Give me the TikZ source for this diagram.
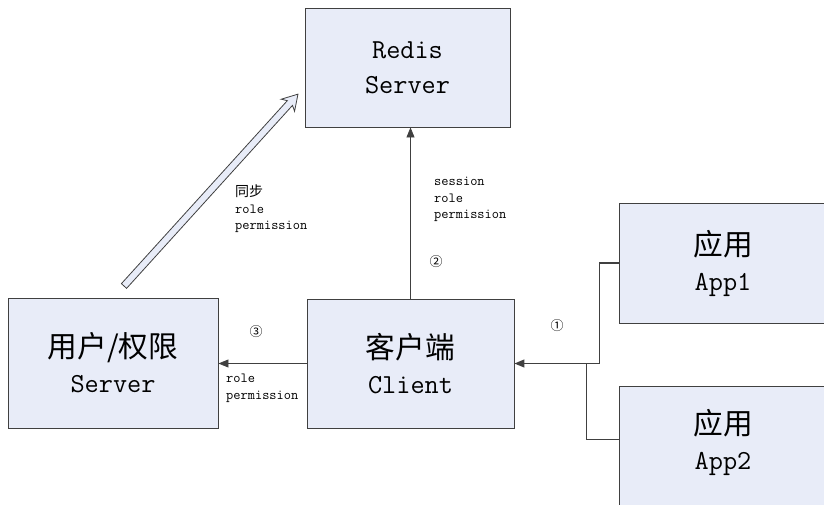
\documentclass[tikz,border=0pt]{standalone}
\usepackage{fontspec}
\newfontfamily\cjk[Scale=1.08]{Noto Sans CJK SC}
\newfontfamily\cjksmall{Noto Sans CJK SC}
\usetikzlibrary{arrows.meta,calc}
\definecolor{boxfill}{HTML}{E8ECF8}
\definecolor{linegray}{HTML}{404040}
\tikzset{
  box/.style={draw=linegray, line width=0.9pt, fill=boxfill, minimum width=#1, align=center,
     font=\fontsize{27.5}{35}\selectfont\ttfamily, inner sep=0pt},
  conn/.style={draw=linegray, line width=0.8pt},
  tip/.style={-{Triangle[length=10pt,width=8pt]}},
  lbl/.style={font=\fontsize{14}{16.5}\selectfont\ttfamily, align=left, inner sep=0pt},
  num/.style={font=\fontsize{13}{15}\selectfont\cjksmall, inner sep=0pt}
}
\begin{document}
\begin{tikzpicture}[x=1pt,y=1pt]
\useasboundingbox (0,0) rectangle (824,504);
\clip (0,0) rectangle (824,504);
% boxes
\node[box=205pt, minimum height=119pt] (redis) at (407.5,436.5) {Redis\\Server};
\node[box=210pt, minimum height=130pt] (user) at (113,141) {{\cjk 用户/权限}\\Server};
\node[box=207pt, minimum height=129pt] (client) at (410.5,140.5) {{\cjk 客户端}\\Client};
\node[box=208pt, minimum height=120pt] (app1) at (723,241) {{\cjk 应用}\\App1};
\node[box=208pt, minimum height=120pt, text depth=14pt] (app2) at (723,58) {{\cjk 应用}\\App2};
% connectors
\draw[conn, tip] (client.north) -- (client.north |- redis.south);
\draw[conn, tip] (client.west) -- (client.west -| user.east);
\coordinate (a2) at ($(app2.west)+(0,7)$);
\draw[conn] (a2) -- ++(-32,0) |- (client.east);
\draw[conn, line width=1.2pt, tip] (app1.west) -- ++(-19,0) |- (client.east);
% hollow sync arrow
\coordinate (syncstart) at (124,218);
\begin{scope}[shift={(syncstart)}, rotate=47.8]
\draw[draw=linegray, line width=0.8pt, fill=boxfill, line join=miter]
  (0,-3.5) -- (247,-3.5) -- (244,-9) -- (259,0) -- (244,9) -- (247,3.5) -- (0,3.5) -- cycle;
\end{scope}
% labels
\node[lbl, anchor=north west] (l1) at (235,319) {{\cjksmall 同步}\\role\\permission};
\node[lbl, anchor=north west] (l2) at (434,327) {session\\role\\permission};
\node[lbl, anchor=north west] (l3) at (226,130) {role\\permission};
\node[num] (n2) at (436,242) {②};
\node[num] (n3) at (256,172) {③};
\node[num] (n1) at (557,178) {①};
\end{tikzpicture}
\end{document}
